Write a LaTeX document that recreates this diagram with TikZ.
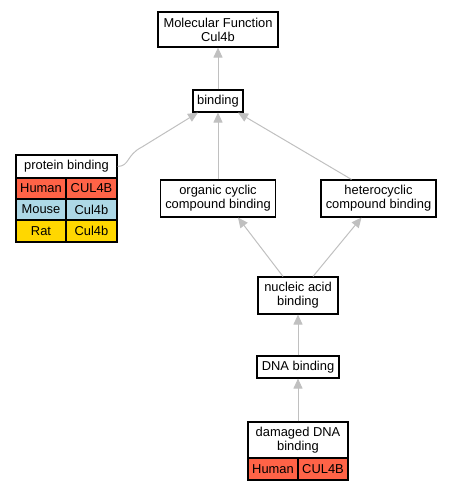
\documentclass[tikz,border=0pt]{standalone}
\usepackage{fontspec}
\setmainfont{Liberation Sans}
\usetikzlibrary{arrows.meta}
\definecolor{edgegray}{HTML}{C0C0C0}
\definecolor{human}{HTML}{FF6347}
\definecolor{mouse}{HTML}{ADD8E6}
\definecolor{rat}{HTML}{FFD700}
\tikzset{
  term/.style={draw=black, line width=1.1pt, fill=white, inner sep=0pt, align=center, font=\fontsize{12.9}{13.8}\selectfont},
  cell/.style={draw=black, line width=1.1pt, inner sep=0pt, align=center, font=\fontsize{12.9}{13.8}\selectfont},
  link/.style={draw=edgegray, line width=1pt, -{Triangle[length=10pt,width=9pt]}},
}
\begin{document}
\begin{tikzpicture}[x=1pt,y=-1pt]
\useasboundingbox (0,0) rectangle (452,491);
% nodes
\node[term, minimum width=120pt, minimum height=35pt] (mf) at (218,29.5) {Molecular Function\\Cul4b};
\node[term, minimum width=50pt, minimum height=22pt] (bind) at (218,101) {binding};
\node[term, minimum width=115pt, minimum height=37pt] (org) at (218,198.5) {organic cyclic\\compound binding};
\node[term, minimum width=115pt, minimum height=37pt] (het) at (378.5,198.5) {heterocyclic\\compound binding};
\node[term, minimum width=80pt, minimum height=37pt] (nuc) at (298,295.5) {nucleic acid\\binding};
\node[term, minimum width=82pt, minimum height=22pt] (dna) at (298,367) {DNA binding};
% damaged DNA binding table
\node[term, minimum width=100pt, minimum height=36pt] (dmg) at (298,440) {damaged DNA\\binding};
\node[cell, fill=human, minimum width=50pt, minimum height=22pt] (dmgh) at (273,469) {Human};
\node[cell, fill=human, minimum width=50pt, minimum height=22pt] (dmgg) at (323,469) {CUL4B};
% protein binding table
\node[term, minimum width=101pt, minimum height=23pt] (prot) at (66.5,166.5) {protein binding};
\node[cell, fill=human, minimum width=50pt, minimum height=21pt] (ph) at (41,188.5) {Human};
\node[cell, fill=human, minimum width=51pt, minimum height=21pt] (pg) at (91.5,188.5) {CUL4B};
\node[cell, fill=mouse, minimum width=50pt, minimum height=21pt] (mh) at (41,209.5) {Mouse};
\node[cell, fill=mouse, minimum width=51pt, minimum height=21pt] (mg) at (91.5,209.5) {Cul4b};
\node[cell, fill=rat, minimum width=50pt, minimum height=22pt] (rh) at (41,231) {Rat};
\node[cell, fill=rat, minimum width=51pt, minimum height=22pt] (rg) at (91.5,231) {Cul4b};
% edges
\draw[link] (bind.north) -- (mf.south);
\draw[link] (org.north) -- (bind.south);
\draw[link] ([xshift=-27pt]het.north) -- ([xshift=20pt]bind.south);
\draw[link] ([xshift=-15pt]nuc.north) -- ([xshift=20pt]org.south);
\draw[link] ([xshift=15pt]nuc.north) -- ([xshift=-17pt]het.south);
\draw[link] (dna.north) -- (nuc.south);
\draw[link] (dmg.north) -- (dna.south);
\draw[link] (prot.east) .. controls (130,166) and (126,155) .. (142,147) -- ([xshift=-20pt]bind.south);
\end{tikzpicture}
\end{document}
